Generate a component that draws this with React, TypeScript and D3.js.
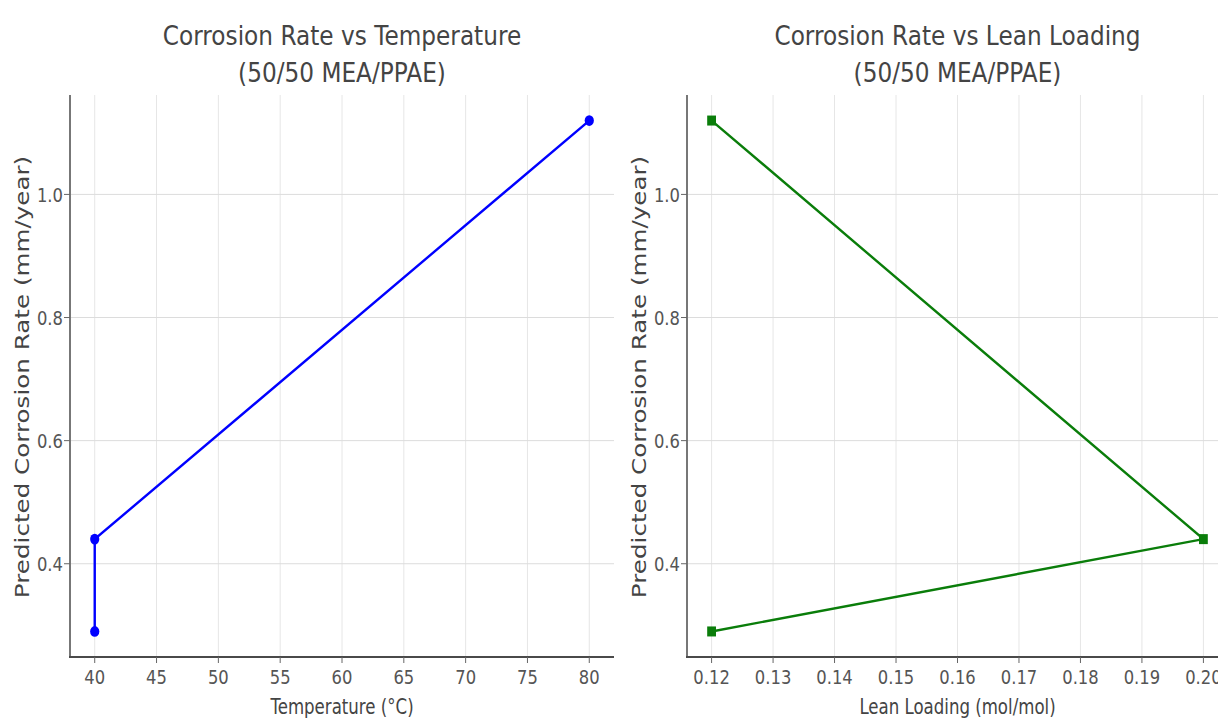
import React from "react";
import * as d3 from "d3";

// values
const temperatures = [40, 40, 80];
const leanLoadings = [0.12, 0.2, 0.12];
const corrosionRates = [0.29, 0.44, 1.12];

const tempTicks = [40, 45, 50, 55, 60, 65, 70, 75, 80];
const leanTicks = [0.12, 0.13, 0.14, 0.15, 0.16, 0.17, 0.18, 0.19, 0.2];
const rateTicks = [0.4, 0.6, 0.8, 1.0];

const W = 1218;
const H = 722;
const top = 95;
const bottom = 657;
const FONT = "DejaVu Sans, sans-serif";

// matplotlib style 5% margins
function padded(ext: [number, number]): [number, number] {
  const m = (ext[1] - ext[0]) * 0.05;
  return [ext[0] - m, ext[1] + m];
}

// the picture is squeezed sideways, so text is drawn narrower than the font
function Squeezed({ x, y, size, anchor, fill, children, sx = 0.82 }: any) {
  return (
    <text
      transform={`translate(${x},${y}) scale(${sx},1)`}
      fontSize={size}
      textAnchor={anchor}
      fill={fill}
      fontFamily={FONT}
    >
      {children}
    </text>
  );
}

function Panel({ xs, xTicks, left, right, title, xLabel, color, marker, fmt }: any) {
  const x = d3.scaleLinear().domain(padded(d3.extent(xs) as [number, number])).range([left, right]);
  const y = d3.scaleLinear().domain(padded(d3.extent(corrosionRates) as [number, number])).range([bottom, top]);
  const pts = xs.map((v: number, i: number) => [v, corrosionRates[i]] as [number, number]);
  const line = d3.line<[number, number]>().x(d => x(d[0])).y(d => y(d[1]));
  const cx = (left + right) / 2;

  return (
    <g>
      {/* grid */}
      {xTicks.map((t: number) => (
        <line key={"gx" + t} x1={x(t)} x2={x(t)} y1={top} y2={bottom} stroke="#e6e6e6" strokeWidth={1} />
      ))}
      {rateTicks.map(t => (
        <line key={"gy" + t} x1={left} x2={right} y1={y(t)} y2={y(t)} stroke="#dcdcdc" strokeWidth={1} />
      ))}

      {/* series */}
      <path d={line(pts) || ""} fill="none" stroke={color} strokeWidth={2.4} />
      {pts.map((p: [number, number], i: number) =>
        marker === "circle" ? (
          <ellipse key={i} cx={x(p[0])} cy={y(p[1])} rx={4.6} ry={5.4} fill={color} />
        ) : (
          <rect key={i} x={x(p[0]) - 4.4} y={y(p[1]) - 5} width={8.8} height={10} fill={color} />
        )
      )}

      {/* spines */}
      <line x1={left} x2={left} y1={top} y2={bottom + 1} stroke="#777" strokeWidth={2} />
      <line x1={left - 1} x2={right} y1={bottom} y2={bottom} stroke="#4a4a4a" strokeWidth={2} />

      {/* ticks */}
      {xTicks.map((t: number) => (
        <g key={"tx" + t}>
          <line x1={x(t)} x2={x(t)} y1={bottom} y2={bottom + 6} stroke="#666" strokeWidth={1} />
          <Squeezed x={x(t)} y={684} size={20} anchor="middle" fill="#555">
            {fmt(t)}
          </Squeezed>
        </g>
      ))}
      {rateTicks.map(t => (
        <g key={"ty" + t}>
          <line x1={left - 6} x2={left} y1={y(t)} y2={y(t)} stroke="#666" strokeWidth={1} />
          <Squeezed x={left - 7} y={y(t) + 7.5} size={20} anchor="end" fill="#555">
            {d3.format(".1f")(t)}
          </Squeezed>
        </g>
      ))}

      {/* labels */}
      <Squeezed x={cx} y={714} size={20.5} anchor="middle" fill="#444" sx={0.81}>
        {xLabel}
      </Squeezed>
      <text
        transform={`translate(${left - 41},377) rotate(-90) scale(1.295,1)`}
        fontSize={19}
        textAnchor="middle"
        fill="#444"
        fontFamily={FONT}
      >
        Predicted Corrosion Rate (mm/year)
      </text>
      <Squeezed x={cx} y={45} size={27} anchor="middle" fill="#444" sx={0.86}>
        {title}
      </Squeezed>
      <Squeezed x={cx} y={82} size={27} anchor="middle" fill="#444" sx={0.86}>
        (50/50 MEA/PPAE)
      </Squeezed>
    </g>
  );
}

export default function App() {
  return (
    <svg
      width={W}
      height={H}
      style={{ position: "absolute", left: 0, top: 0, background: "#fff" }}
    >
      <rect width={W} height={H} fill="#fff" />
      <Panel
        xs={temperatures}
        xTicks={tempTicks}
        left={70}
        right={614}
        title="Corrosion Rate vs Temperature"
        xLabel="Temperature (°C)"
        color="#0000ff"
        marker="circle"
        fmt={(v: number) => String(v)}
      />
      <Panel
        xs={leanLoadings}
        xTicks={leanTicks}
        left={687}
        right={1228}
        title="Corrosion Rate vs Lean Loading"
        xLabel="Lean Loading (mol/mol)"
        color="#0a7d0a"
        marker="square"
        fmt={d3.format(".2f")}
      />
    </svg>
  );
}
